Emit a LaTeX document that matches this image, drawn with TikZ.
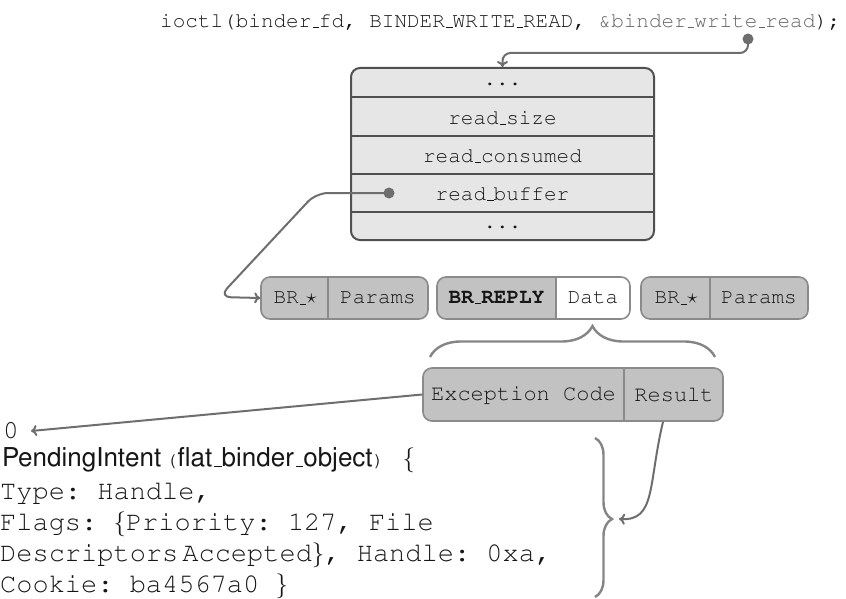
\documentclass[tikz,border=0pt]{standalone}
\usetikzlibrary{arrows.meta,decorations.pathreplacing,calc}

% Courier and Helvetica (URW clones) through NFSS
\newcommand\crfont{\fontencoding{OT1}\fontfamily{pcr}\selectfont}
\newcommand\hvfont{\fontencoding{OT1}\fontfamily{phv}\selectfont}

\definecolor{inkc}{HTML}{161616}
\definecolor{linec}{HTML}{6E6E6E}
\definecolor{structfill}{HTML}{E6E6E6}
\definecolor{structline}{HTML}{505050}
\definecolor{cellfill}{HTML}{C2C2C2}
\definecolor{cellline}{HTML}{8A8A8A}
\definecolor{bracec}{HTML}{858585}

\tikzset{
  codetext/.style={font=\crfont\fontsize{21}{24}\selectfont, text=inkc, inner sep=0pt},
  bigcode/.style={font=\crfont\fontsize{27}{30}\selectfont, text=inkc, inner sep=0pt, anchor=base west},
  structbox/.style={draw=structline, fill=structfill, line width=2pt, rounded corners=9pt},
  cellbox/.style={draw=cellline, fill=cellfill, line width=1.6pt, rounded corners=9pt},
  divider/.style={draw=cellline, line width=1.6pt},
  rowline/.style={draw=structline, line width=2pt},
  conn/.style={draw=linec, line width=2pt, -{To[length=6pt,width=11pt]}},
  ptrdot/.style={fill=linec},
  curly/.style={draw=bracec, line width=2.4pt, decorate},
}

\begin{document}
\frenchspacing
\begin{tikzpicture}[x=1pt,y=-1pt]
\useasboundingbox (0,0) rectangle (846,599);

% system call line
\node[codetext, anchor=west] (ioctl) at (160,22)
  {ioctl(binder\_fd, BINDER\_WRITE\_READ, \textcolor{linec!90!black}{\&binder\_write\_read});};
\coordinate (iodot) at (748,39);

% binder_write_read structure
\node[structbox, minimum width=303pt, minimum height=172pt] (st) at (502.5,154) {};
\foreach \yy in {97,136,174,212}
  \draw[rowline] (st.west |- 0,\yy) -- (st.east |- 0,\yy);
\node[codetext] (rtop)  at (502.5,84)  {...};
\node[codetext] (rsize) at (502.5,118) {read\_size};
\node[codetext] (rcons) at (502.5,156) {read\_consumed};
\node[codetext] (rbuf)  at (502.5,194) {read\_buffer};
\node[codetext] (rbot)  at (502.5,227) {...};
\coordinate (rbdot) at (389,193);

% return command buffer
\node[cellbox, minimum width=167pt, minimum height=42pt] (b1) at (344.5,298) {};
\draw[divider] (b1.north -| 328,0) -- (b1.south -| 328,0);
\node[codetext] (b1a) at (295,298) {BR\_$\star$};
\node[codetext] (b1b) at (378,298) {Params};

\begin{scope}
  \clip (437,270) rectangle (556,326);
  \fill[cellfill, rounded corners=9pt] (437,277) rectangle (630,319);
\end{scope}
\node[cellbox, fill=none, minimum width=193pt, minimum height=42pt] (b2) at (533.5,298) {};
\draw[divider] (b2.north -| 556,0) -- (b2.south -| 556,0);
\node[codetext, font=\crfont\bfseries\fontsize{21}{24}\selectfont] (b2a) at (496.5,298) {BR\_REPLY};
\node[codetext] (b2b) at (593,298) {Data};

\node[cellbox, minimum width=167pt, minimum height=42pt] (b3) at (724.5,298) {};
\draw[divider] (b3.north -| 710,0) -- (b3.south -| 710,0);
\node[codetext] (b3a) at (676,298) {BR\_$\star$};
\node[codetext] (b3b) at (759,298) {Params};

% reply payload
\draw[curly, decoration={brace, amplitude=31pt, aspect=0.57}] (430,357) -- (715,357);
\node[cellbox, minimum width=300pt, minimum height=53pt] (ex) at (573,394.5) {};
\draw[divider] (ex.north -| 624,0) -- (ex.south -| 624,0);
\node[codetext, font=\crfont\fontsize{22}{24}\selectfont] (exc) at (523.5,395) {Exception Code};
\node[codetext, font=\crfont\fontsize{22}{24}\selectfont] (res) at (674,395) {Result};

% decoded values
\node[bigcode, font=\crfont\fontsize{26}{28}\selectfont] (zero) at (3,438) {0};
\node[anchor=base west, inner sep=0pt, text=inkc] (pend) at (2,466)
  {\hvfont\fontsize{26}{28}\selectfont PendingIntent\,{\crfont\fontsize{20}{22}\selectfont(}flat\_binder\_object{\crfont\fontsize{20}{22}\selectfont)}\hspace{18pt}\fontsize{27}{30}\selectfont$\{$};
\node[bigcode] (ty) at (0,499) {Type: Handle,};
\node[bigcode] (fl) at (0,530) {Flags: $\{$Priority: 127, File};
\node[bigcode] (de) at (0,561) {Descriptors\hspace{4pt}Accepted$\}$, Handle: 0xa,};
\node[bigcode] (co) at (0,592) {Cookie: ba4567a0 $\}$};
\draw[curly, decoration={brace, amplitude=17pt, aspect=0.51}] (595,438) -- (595,597);
\coordinate (bracetip) at (612,519);

% pointers and arrows
\fill[ptrdot] (iodot) circle (5.5pt);
\draw[conn, rounded corners=8pt] (iodot) |- (502.5,53) -- (st.north);
\fill[ptrdot] (rbdot) circle (5.5pt);
\draw[conn, rounded corners=12pt] (rbdot) -- (316,193) -- (219,297) -- (b1.west);
\draw[conn] (ex.west) -- ([xshift=12pt]zero.east |- 0,431);
\draw[conn] (ex.south -| 663,0) .. controls (648,485) and (656,521) .. ([xshift=7pt]bracetip);
\end{tikzpicture}
\end{document}
